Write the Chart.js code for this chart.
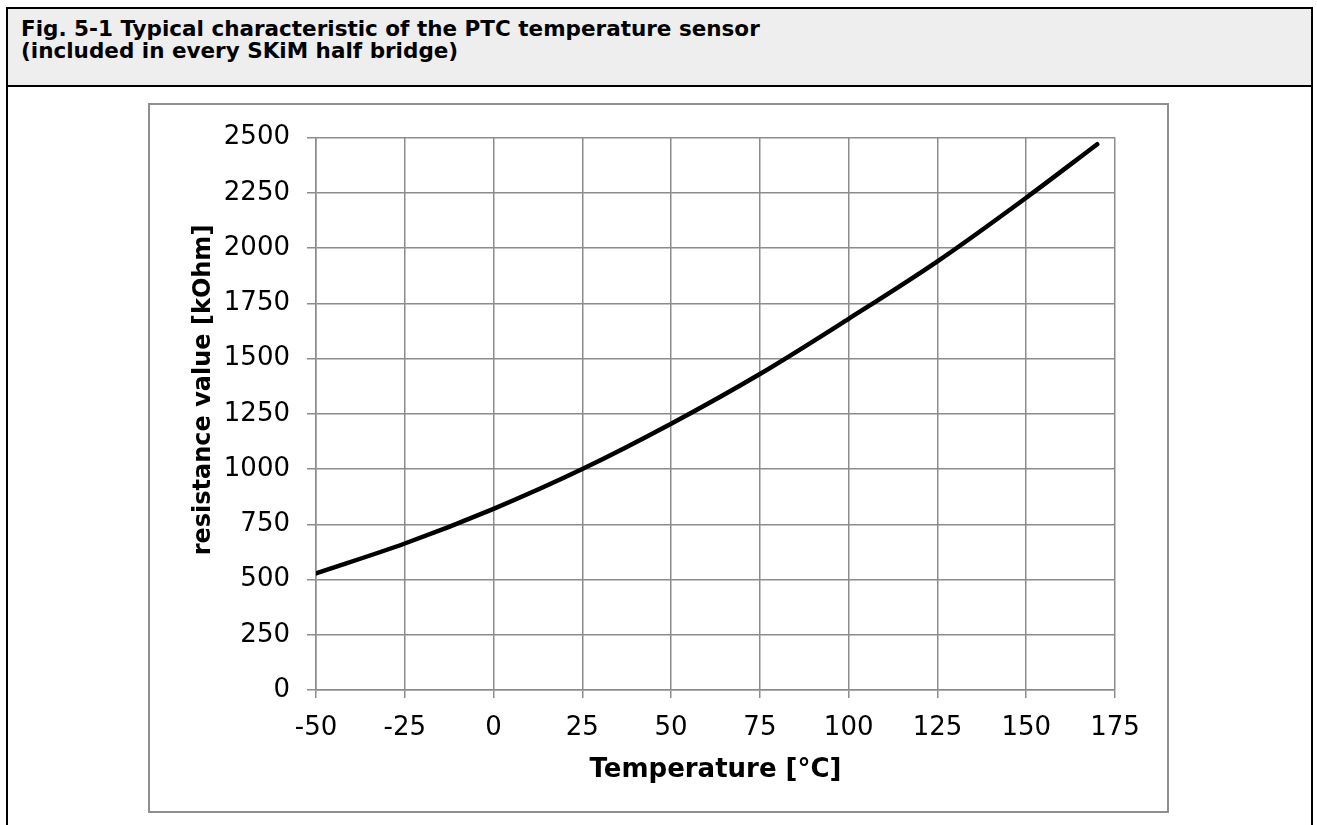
<!DOCTYPE html>
<html>
<head>
<meta charset="utf-8">
<script src="https://cdn.jsdelivr.net/npm/chart.js@4.4.1/dist/chart.umd.min.js"></script>
<style>
    body {
        margin: 0;
        background: #ffffff;
        font-family: "DejaVu Sans", Verdana, sans-serif;
    }
    #frame {
        position: absolute;
        left: 6px;
        top: 7px;
        width: 1303px;
        height: 830px;
        border: 2px solid #000;
        border-bottom: none;
    }
    #header {
        background: #eeeeee;
        border-bottom: 2px solid #000;
        padding-left: 13px;
        box-sizing: border-box;
        height: 78px;
        padding-top: 9px;
        font-weight: bold;
        font-size: 21.5px;
        line-height: 22px;
    }
    #chartBox {
        position: absolute;
        left: 148px;
        top: 103px;
        width: 1017px;
        height: 706px;
        border: 2px solid #8f8f8f;
    }
</style>
</head>
<body>
<div id="frame">
    <div id="header">Fig. 5-1 Typical characteristic of the PTC temperature sensor<br>(included in every SKiM half bridge)</div>
</div>
<div id="chartBox"><canvas id="ptcChart"></canvas></div>

<script>
// data
var temperatures = [-50, -25, 0, 25, 50, 75, 100, 125, 150, 170];
var resistance = [528, 663, 820, 1000, 1205, 1430, 1680, 1940, 2228, 2470];

var xTitle = 'Temperature [°C]';
var yTitle = 'resistance value [kOhm]';

var gridColor = '#8c8c8c';

// y axis title is drawn by hand, Excel puts it a bit above the middle
var yTitlePlugin = {
    id: 'yTitle',
    afterDraw: function(chart) {
        var ctx = chart.ctx;
        ctx.save();
        ctx.translate(54, 285);
        ctx.rotate(-Math.PI / 2);
        ctx.font = 'bold 24px "DejaVu Sans"';
        ctx.fillStyle = '#000';
        ctx.textAlign = 'center';
        ctx.textBaseline = 'middle';
        ctx.fillText(yTitle, 0, 0);
        ctx.restore();
    }
};

var points = temperatures.map(function(t, i) {
    return { x: t, y: resistance[i] };
});

// plain numbers, no thousands separator
function plainTick(value) {
    return String(value);
}

var chartOptions = {
    responsive: true,
    maintainAspectRatio: false,
    animation: false,
    layout: {
        padding: { top: 28, right: 52, left: 0, bottom: 0 }
    },
    plugins: {
        legend: { display: false },
        tooltip: { enabled: false }
    },
    scales: {
        x: {
            type: 'linear',
            min: -50,
            max: 175,
            afterFit: function(scale) { scale.height = 121; },
            ticks: {
                stepSize: 25,
                color: '#000',
                padding: 15,
                callback: plainTick,
                font: { family: 'DejaVu Sans', size: 26 }
            },
            grid: {
                color: gridColor,
                lineWidth: 1.5,
                tickLength: 8
            },
            border: { color: gridColor, width: 1.5 },
            title: {
                display: true,
                text: xTitle,
                color: '#000',
                padding: { top: 0, bottom: 25 },
                font: { family: 'DejaVu Sans', size: 26, weight: 'bold', lineHeight: 1.2 }
            }
        },
        y: {
            min: 0,
            max: 2500,
            afterFit: function(scale) { scale.width = 166; },
            ticks: {
                stepSize: 250,
                color: '#000',
                padding: 17,
                callback: plainTick,
                font: { family: 'DejaVu Sans', size: 26 }
            },
            grid: {
                color: gridColor,
                lineWidth: 1.5,
                tickLength: 9
            },
            border: { color: gridColor, width: 1.5 }
        }
    }
};

var ctx = document.getElementById('ptcChart').getContext('2d');
var ptcChart = new Chart(ctx, {
    type: 'scatter',
    data: {
        datasets: [{
            label: 'PTC',
            data: points,
            showLine: true,
            borderColor: '#000',
            borderWidth: 4.5,
            borderCapStyle: 'round',
            cubicInterpolationMode: 'monotone',
            pointRadius: 0
        }]
    },
    options: chartOptions,
    plugins: [yTitlePlugin]
});
</script>
</body>
</html>
